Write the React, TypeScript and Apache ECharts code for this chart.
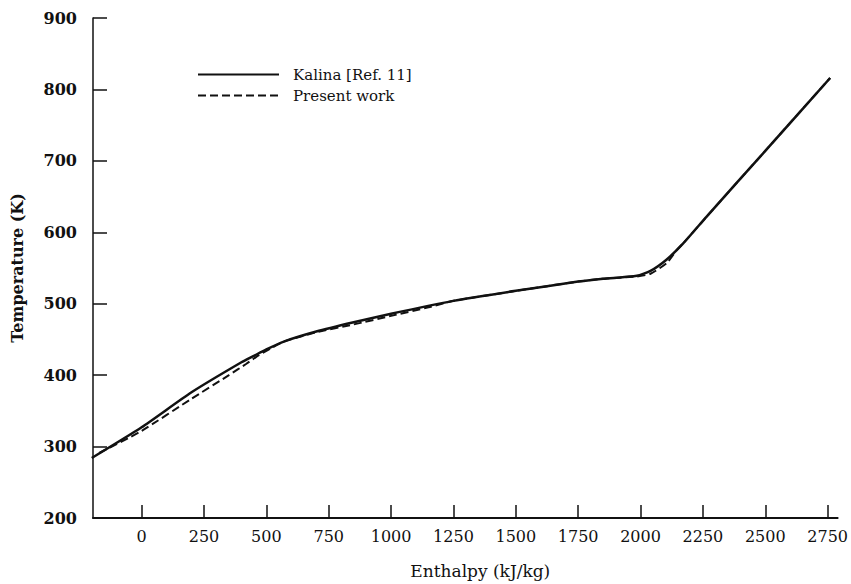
import React, { useEffect, useRef } from "react";
import * as echarts from "echarts";

const xTickValues = [0, 250, 500, 750, 1000, 1250, 1500, 1750, 2000, 2250, 2500, 2750];

const kalinaH = [-200, 0, 200, 400, 450, 500, 570, 700, 850, 1000, 1250, 1500, 1750, 1850, 1985, 2040, 2105, 2170, 2265, 2500, 2760];
const kalinaT = [284, 327, 376, 418, 427, 436, 447, 461, 474, 486, 504, 518, 531, 535, 539, 546, 562, 584, 622, 714, 816];

const presentH = [-170, 0, 200, 350, 420, 470, 520, 570, 700, 850, 1000, 1150, 1250, 1500, 1750, 1850, 1985, 2040, 2105, 2145, 2170, 2265, 2500, 2760];
const presentT = [291, 322, 367, 400, 416, 428, 438, 447, 460, 471, 483, 495, 504, 518, 531, 535, 538, 542, 557, 575, 584, 622, 714, 816];

const seriesNames = ["Kalina [Ref. 11]", "Present work"];

const FONT = "DejaVu Serif, Liberation Serif, serif";

export default function App() {
  const ref = useRef<HTMLDivElement>(null);
  useEffect(() => {
    if (!ref.current) return;
    const chart = echarts.init(ref.current, null, { renderer: "svg" });
    const kalina = kalinaH.map((h, i) => [h, kalinaT[i]]);
    const present = presentH.map((h, i) => [h, presentT[i]]);
    chart.setOption({
      animation: false,
      backgroundColor: "#ffffff",
      grid: { left: 93, right: 13, top: 18, bottom: 65, containLabel: false },
      legend: {
        orient: "vertical",
        left: 192,
        top: 62,
        itemWidth: 81,
        itemHeight: 12,
        itemGap: 6,
        data: seriesNames,
        itemStyle: { opacity: 0 },
        textStyle: { fontFamily: FONT, fontSize: 15, color: "#111", padding: [0, 0, 0, 9] },
      },
      xAxis: {
        type: "value",
        min: -195,
        max: 2790,
        name: "Enthalpy (kJ/kg)",
        nameLocation: "middle",
        nameGap: 44,
        nameTextStyle: { fontFamily: FONT, fontSize: 17, color: "#111", padding: [0, 0, 0, 30] },
        axisLine: { show: true, onZero: false, lineStyle: { color: "#111", width: 2 } },
        axisTick: { show: true, inside: true, length: 13, customValues: xTickValues, lineStyle: { color: "#111", width: 1.5 } },
        axisLabel: {
          customValues: xTickValues,
          formatter: (v: number) => String(v),
          fontFamily: FONT,
          fontSize: 16,
          color: "#111",
          margin: 10,
        },
        splitLine: { show: false },
      },
      yAxis: {
        type: "value",
        min: 200,
        max: 900,
        interval: 100,
        name: "Temperature (K)",
        nameLocation: "middle",
        nameGap: 68,
        nameTextStyle: { fontFamily: FONT, fontSize: 16, fontWeight: "bold", color: "#111" },
        axisLine: { show: true, onZero: false, lineStyle: { color: "#111", width: 1.5 } },
        axisTick: { show: true, inside: true, length: 14, lineStyle: { color: "#111", width: 1.5 } },
        axisLabel: { fontFamily: FONT, fontSize: 16, fontWeight: "bold", color: "#111", margin: 16 },
        splitLine: { show: false },
      },
      series: [
        {
          name: seriesNames[0],
          type: "line",
          data: kalina,
          symbol: "none",
          smooth: 0.2,
          lineStyle: { color: "#111", width: 2.5, type: "solid" },
          itemStyle: { color: "#111" },
        },
        {
          name: seriesNames[1],
          type: "line",
          data: present,
          symbol: "none",
          smooth: 0.2,
          lineStyle: { color: "#111", width: 2, type: [8, 4] },
          itemStyle: { color: "#111" },
        },
      ],
    });
    return () => chart.dispose();
  }, []);
  return <div ref={ref} style={{ width: 851, height: 584, position: "absolute", left: 0, top: 0 }} />;
}
